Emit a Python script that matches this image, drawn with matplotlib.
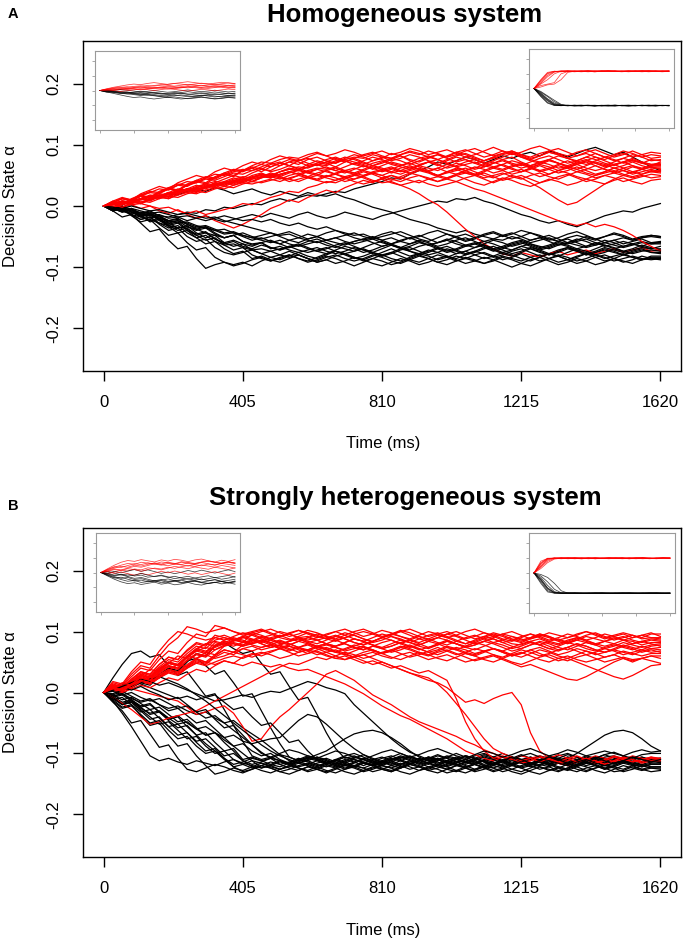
import numpy as np
import matplotlib
matplotlib.use("Agg")
import matplotlib.pyplot as plt

plt.rcParams['font.family'] = ['Liberation Sans', 'DejaVu Sans']

# ---------------- data (decision state in thousandths, sampled every 27 ms) ----------------
T_END = 1620
X_TICKS = [0, 405, 810, 1215, 1620]
Y_TICKS = [-0.2, -0.1, 0.0, 0.1, 0.2]
Y_TICK_LABELS = ['-0.2', '-0.1', '0.0', '0.1', '0.2']
TITLES = ['Homogeneous system', 'Strongly heterogeneous system']
PANEL_LETTERS = ['A', 'B']
X_LABEL = 'Time (ms)'
Y_LABEL = 'Decision State \u03b1'

A_red = [
 [0,6,2,10,16,12,22,28,24,34,40,36,46,52,48,58,62,56,64,70,66,60,68,74,70,64,72,78,72,66,70,76,82,74,68,72,66,74,80,76,70,64,70,76,80,72,66,70,76,70,64,68,74,80,74,68,72,76,70,66,72],
 [0,-4,4,8,4,12,18,14,22,28,24,32,38,34,42,46,40,48,54,50,56,60,54,50,58,62,56,52,58,64,60,54,58,64,60,56,50,56,62,58,52,58,64,68,62,56,60,66,60,54,58,64,58,52,56,62,58,54,60,64,60],
 [0,4,-2,6,12,8,16,22,20,28,34,30,38,44,50,46,54,60,58,66,72,68,76,80,74,70,78,84,80,74,78,86,82,76,72,78,84,80,88,84,78,74,80,86,90,84,78,82,88,84,78,74,80,86,80,74,78,84,80,74,76],
 [0,6,2,8,4,10,16,12,20,26,22,30,36,32,38,44,40,46,52,48,44,50,56,52,48,54,58,54,50,56,60,64,58,54,60,56,50,46,52,56,52,46,50,54,48,44,50,54,48,44,50,56,52,46,50,54,50,46,50,46,48],
 [0,8,14,10,20,26,32,28,38,44,50,46,56,62,58,66,72,68,76,82,78,74,80,86,82,76,72,78,84,88,82,78,84,90,86,80,76,82,88,92,86,80,84,90,86,80,76,82,88,84,78,82,88,92,86,80,84,90,84,78,80],
 [0,4,-2,2,-4,0,-8,-12,-6,-14,-20,-16,-24,-30,-36,-30,-22,-14,-4,2,10,6,14,20,26,22,30,36,42,38,46,50,44,52,58,54,48,56,60,54,50,56,62,58,52,56,62,58,52,58,64,60,54,50,56,62,58,52,56,60,56],
 [0,2,8,4,12,16,14,20,26,24,30,36,32,40,46,42,50,54,48,56,62,58,64,68,62,58,64,70,66,60,66,72,68,62,66,72,76,70,64,68,72,66,62,68,74,70,64,68,74,70,64,60,66,72,68,62,66,72,66,62,62],
 [0,4,8,6,12,16,12,20,24,22,28,32,30,36,40,38,44,48,46,52,56,52,48,54,58,52,46,50,56,52,46,42,48,54,50,44,40,46,50,44,38,34,40,46,42,36,32,38,44,40,34,38,44,40,36,42,46,40,36,42,44],
 [0,-2,4,8,6,12,18,16,22,26,24,30,34,38,34,40,44,48,52,48,54,58,54,60,56,52,58,62,58,54,50,56,62,66,60,56,62,68,64,58,62,68,72,66,60,56,62,68,64,58,62,68,72,66,60,56,62,66,60,64,64],
 [0,4,8,6,12,18,16,22,28,26,32,36,40,38,44,48,46,52,48,44,50,54,48,44,50,46,40,44,48,42,38,40,34,28,20,10,2,-10,-24,-38,-50,-62,-70,-78,-82,-76,-80,-84,-78,-74,-80,-76,-72,-78,-74,-70,-76,-72,-68,-74,-72],
 [0,2,6,2,4,0,-4,-2,-8,-12,-8,-14,-10,-6,-2,4,2,8,14,18,24,22,30,34,40,38,44,50,48,54,58,62,56,60,66,62,58,64,70,66,60,64,70,74,68,62,66,72,68,62,64,70,74,70,64,68,72,66,62,66,66],
 [0,6,12,10,18,22,28,26,34,40,38,46,52,50,56,60,58,64,70,66,72,76,70,66,72,78,74,68,64,70,74,68,64,60,66,72,68,62,66,72,76,70,64,60,66,70,64,58,62,68,74,68,62,58,62,68,62,56,60,64,60],
 [0,2,6,4,10,14,18,16,22,26,30,28,34,38,36,42,46,50,46,52,56,52,58,62,60,64,58,54,60,66,62,56,52,58,62,56,50,54,58,62,56,50,46,52,56,60,54,48,52,58,54,48,44,50,54,58,52,48,52,56,54],
 [0,4,8,6,12,16,14,20,24,28,26,32,36,40,38,44,48,52,50,56,60,64,62,68,72,70,76,80,78,84,80,74,78,84,80,74,70,76,82,86,80,74,78,84,88,82,76,72,76,70,66,72,76,70,66,72,78,74,70,76,74],
 [0,-2,2,6,4,10,14,12,18,22,20,26,30,28,34,38,36,40,44,40,46,50,46,42,48,52,48,44,50,54,50,44,40,46,50,46,40,44,50,54,50,44,38,44,50,46,38,30,20,10,2,6,16,26,36,44,50,56,52,58,56],
 [0,6,12,8,16,22,20,28,34,32,40,46,44,52,58,56,62,68,64,70,76,72,66,70,76,80,74,68,74,80,76,70,66,72,78,82,76,70,74,80,76,70,74,80,86,80,74,70,76,82,78,72,68,74,80,76,70,74,72,68,68],
 [0,4,8,6,12,16,20,18,24,28,26,32,36,34,40,44,40,46,50,46,40,44,48,42,38,42,46,40,36,40,44,38,34,38,42,36,32,36,40,34,28,24,18,12,6,0,-6,-12,-18,-24,-28,-32,-28,-34,-30,-34,-40,-48,-58,-66,-74],
 [0,4,2,8,12,10,16,22,20,26,30,34,32,38,42,40,46,52,50,56,60,58,64,68,66,72,76,72,68,74,80,78,84,88,84,90,86,80,84,90,94,88,82,86,90,84,80,86,90,94,88,82,86,80,76,82,86,80,84,88,86],
 [0,6,4,10,16,14,22,28,26,34,38,44,42,48,54,52,58,62,56,60,66,62,56,60,64,58,54,60,66,62,56,60,66,70,64,58,62,56,52,58,64,60,54,58,64,68,62,56,60,66,62,56,60,66,60,54,58,64,60,56,58],
 [0,8,4,12,18,14,24,30,26,36,42,38,48,54,50,58,64,60,68,72,66,74,78,72,68,74,80,76,70,66,72,78,74,68,74,80,84,78,72,76,70,74,80,76,70,66,72,78,82,76,70,74,80,76,70,66,72,78,72,68,70],
 [0,2,-2,4,8,6,12,16,14,20,24,22,28,32,30,36,40,38,42,46,44,40,46,50,46,42,48,52,46,40,44,50,46,42,38,44,48,44,40,46,50,54,48,42,46,50,44,38,42,48,52,46,40,44,50,46,40,44,48,52,50],
 [0,6,12,10,18,24,22,30,36,34,42,48,46,54,60,58,66,72,70,76,80,78,84,88,82,86,92,88,82,86,90,84,88,94,90,84,88,92,86,80,84,90,96,90,84,88,94,98,92,86,82,88,92,86,80,84,90,86,80,84,82],
]

A_black = [
 [0,-4,-8,-6,-12,-10,-16,-18,-14,-10,-12,-6,-8,-2,-4,0,4,2,8,12,8,14,18,16,20,24,22,28,32,36,40,46,44,52,58,64,72,68,74,80,76,70,76,82,78,84,88,82,90,86,80,86,92,96,90,84,88,80,72,64,58],
 [0,4,2,8,12,10,16,20,18,24,28,24,30,26,20,24,28,22,18,24,20,16,22,18,16,20,14,10,4,-2,-6,-10,-16,-22,-26,-30,-36,-40,-44,-40,-46,-50,-54,-56,-50,-54,-60,-56,-52,-58,-62,-58,-54,-60,-66,-62,-58,-62,-66,-60,-58],
 [0,-4,-8,-6,-12,-16,-14,-20,-18,-24,-20,-16,-22,-26,-22,-18,-14,-18,-12,-16,-20,-14,-10,-16,-20,-16,-10,-14,-18,-22,-16,-12,-8,-4,0,4,8,6,12,10,14,8,4,-2,-8,-14,-18,-24,-28,-24,-30,-34,-28,-22,-16,-12,-8,-10,-4,0,4],
 [0,-6,-2,-10,-16,-12,-22,-30,-26,-38,-46,-42,-54,-62,-58,-66,-70,-64,-68,-72,-66,-62,-68,-74,-70,-64,-60,-66,-72,-76,-70,-64,-68,-72,-66,-62,-68,-74,-70,-64,-60,-66,-72,-68,-62,-58,-64,-70,-66,-60,-64,-70,-66,-60,-64,-70,-66,-62,-66,-70,-66],
 [0,-6,-4,-10,-16,-14,-20,-26,-24,-30,-36,-34,-40,-46,-44,-50,-56,-52,-58,-62,-56,-60,-54,-50,-56,-60,-64,-58,-54,-50,-56,-62,-58,-52,-48,-54,-60,-56,-50,-46,-52,-58,-54,-48,-44,-50,-56,-52,-48,-54,-60,-56,-50,-54,-60,-56,-52,-56,-52,-50,-52],
 [0,-8,-4,-16,-26,-22,-36,-48,-44,-60,-72,-68,-84,-92,-96,-92,-98,-90,-84,-88,-82,-76,-82,-86,-80,-74,-78,-84,-88,-82,-76,-70,-76,-82,-78,-72,-76,-82,-86,-80,-74,-78,-84,-80,-74,-70,-76,-82,-78,-72,-68,-74,-80,-76,-70,-74,-80,-76,-72,-76,-78],
 [0,-2,-8,-4,-12,-20,-16,-28,-36,-32,-44,-52,-48,-60,-66,-62,-72,-78,-74,-80,-84,-80,-86,-90,-84,-80,-86,-90,-86,-80,-84,-90,-94,-88,-82,-86,-92,-88,-82,-86,-90,-94,-88,-82,-86,-90,-84,-80,-86,-92,-88,-82,-78,-84,-90,-86,-80,-84,-88,-82,-82],
 [0,-6,-2,-10,-18,-14,-24,-32,-28,-40,-48,-44,-54,-60,-56,-62,-66,-60,-56,-62,-68,-64,-58,-54,-60,-66,-70,-74,-68,-62,-58,-64,-70,-66,-60,-64,-70,-76,-72,-66,-62,-68,-74,-70,-64,-60,-66,-72,-68,-62,-66,-72,-76,-70,-64,-68,-74,-70,-64,-68,-72],
 [0,-4,-8,-14,-18,-22,-28,-32,-36,-34,-38,-44,-48,-52,-48,-44,-50,-54,-50,-46,-42,-48,-54,-50,-44,-40,-46,-52,-56,-52,-46,-42,-48,-54,-50,-44,-40,-46,-52,-58,-54,-48,-44,-50,-46,-40,-44,-50,-56,-52,-46,-42,-48,-54,-50,-44,-48,-54,-50,-48,-50],
 [0,-8,-18,-14,-28,-42,-38,-56,-70,-66,-86,-102,-96,-92,-98,-94,-88,-84,-90,-86,-80,-86,-92,-88,-82,-86,-92,-98,-92,-86,-90,-96,-92,-86,-80,-86,-92,-96,-90,-84,-88,-94,-90,-84,-88,-94,-98,-92,-86,-82,-88,-94,-90,-84,-80,-86,-92,-88,-82,-86,-86],
 [0,-4,0,-6,-12,-8,-16,-24,-20,-30,-38,-34,-44,-52,-48,-58,-64,-60,-70,-66,-72,-76,-72,-68,-74,-78,-74,-68,-72,-78,-82,-76,-70,-74,-80,-76,-70,-66,-72,-78,-74,-68,-72,-78,-82,-76,-70,-74,-80,-76,-70,-74,-80,-76,-72,-76,-80,-74,-70,-76,-76],
 [0,-4,-8,-12,-10,-16,-20,-24,-28,-26,-32,-36,-40,-38,-44,-48,-52,-56,-60,-56,-62,-66,-62,-58,-64,-68,-62,-58,-54,-60,-66,-62,-56,-52,-58,-64,-60,-54,-58,-64,-68,-62,-56,-60,-66,-62,-56,-52,-58,-64,-60,-54,-58,-64,-60,-56,-62,-58,-54,-60,-60],
 [0,-4,-10,-6,-16,-24,-20,-32,-40,-36,-48,-56,-52,-64,-72,-68,-80,-86,-90,-84,-80,-86,-90,-84,-78,-74,-80,-86,-82,-76,-80,-86,-90,-84,-78,-82,-88,-84,-78,-74,-80,-86,-82,-76,-80,-86,-90,-84,-78,-82,-88,-84,-78,-80,-86,-82,-78,-84,-88,-84,-84],
 [0,-2,-4,0,-4,-8,-6,-10,-14,-12,-16,-20,-18,-24,-28,-32,-36,-40,-44,-48,-46,-52,-56,-60,-56,-52,-58,-62,-58,-54,-60,-64,-68,-62,-56,-60,-66,-62,-56,-52,-58,-64,-70,-66,-60,-56,-62,-68,-64,-58,-54,-60,-66,-62,-56,-60,-66,-62,-58,-62,-62],
 [0,-6,-2,-10,-16,-12,-22,-28,-24,-34,-40,-36,-46,-52,-48,-58,-62,-60,-68,-72,-68,-64,-70,-74,-78,-72,-66,-70,-76,-72,-66,-62,-68,-74,-78,-74,-68,-72,-78,-74,-68,-64,-70,-76,-72,-66,-70,-76,-80,-74,-68,-72,-78,-74,-68,-72,-76,-72,-68,-70,-70],
 [0,-8,-4,-14,-22,-18,-30,-40,-36,-50,-58,-54,-68,-76,-80,-76,-72,-78,-84,-80,-74,-80,-86,-92,-88,-82,-78,-84,-90,-86,-80,-76,-82,-88,-92,-86,-80,-84,-90,-86,-80,-76,-82,-88,-84,-78,-84,-90,-86,-80,-84,-90,-86,-80,-84,-90,-86,-82,-86,-88,-86],
 [0,-2,-6,-4,-8,-12,-10,-14,-18,-16,-20,-24,-20,-16,-20,-24,-22,-26,-22,-28,-32,-28,-34,-38,-34,-40,-44,-48,-46,-52,-56,-52,-58,-62,-58,-64,-60,-56,-62,-66,-62,-58,-62,-68,-72,-66,-62,-66,-70,-64,-60,-64,-68,-64,-60,-64,-68,-64,-60,-62,-60],
 [0,-8,-4,-14,-22,-18,-28,-36,-32,-44,-52,-48,-58,-64,-62,-68,-72,-70,-74,-70,-66,-72,-76,-72,-68,-74,-78,-74,-70,-76,-82,-78,-72,-68,-74,-80,-76,-70,-74,-80,-76,-70,-66,-72,-78,-74,-68,-72,-78,-82,-76,-70,-74,-80,-76,-70,-74,-78,-74,-72,-74],
 [0,-4,-10,-6,-16,-26,-22,-34,-44,-40,-52,-62,-58,-70,-78,-74,-86,-82,-88,-92,-86,-80,-86,-92,-88,-94,-90,-84,-88,-94,-98,-92,-86,-90,-96,-92,-86,-82,-88,-94,-90,-84,-88,-94,-100,-94,-88,-84,-90,-96,-92,-86,-90,-96,-92,-86,-90,-94,-88,-86,-88],
 [0,-6,-2,-8,-14,-12,-18,-24,-22,-28,-34,-32,-38,-44,-42,-48,-52,-48,-44,-50,-56,-52,-46,-50,-56,-52,-48,-44,-50,-54,-50,-46,-42,-48,-54,-58,-52,-46,-50,-56,-52,-46,-42,-48,-54,-50,-44,-48,-54,-58,-52,-48,-52,-56,-50,-46,-50,-56,-52,-48,-50],
]

B_red = [
 [0,12,8,22,34,30,46,58,54,68,80,76,90,86,92,98,94,100,104,98,92,96,102,98,92,88,94,100,104,98,92,96,102,98,92,86,90,96,100,94,88,92,98,94,88,84,90,96,92,86,90,96,100,94,88,92,96,90,94,98,92],
 [0,8,4,16,26,22,36,48,44,58,70,66,82,78,84,90,86,92,88,82,78,84,90,86,80,76,82,88,84,78,74,80,86,82,76,72,78,84,80,74,78,84,88,82,76,72,78,84,80,74,70,76,82,78,72,76,82,78,74,78,80],
 [0,16,12,30,44,40,60,78,90,108,104,98,102,106,100,94,98,102,96,90,86,92,98,94,88,84,90,94,88,82,86,92,88,82,78,84,90,86,80,76,82,88,92,86,80,78,84,88,82,78,84,90,86,80,76,80,86,84,78,82,82],
 [0,6,2,10,18,14,24,32,28,40,50,46,58,66,62,72,68,74,78,72,68,74,80,76,70,66,72,78,74,68,64,70,76,72,66,62,68,74,70,64,60,66,72,68,62,58,64,70,66,60,56,62,68,64,58,62,68,64,60,64,64],
 [0,10,6,18,28,24,38,50,46,60,72,68,74,80,76,82,86,80,74,78,84,88,82,76,80,86,80,74,70,76,82,86,80,74,78,84,80,74,70,76,82,78,72,68,74,80,84,78,72,76,82,78,72,68,74,78,74,70,76,72,74],
 [0,8,4,14,22,18,30,38,34,46,56,62,56,60,66,62,58,64,68,72,66,60,64,70,74,68,62,58,62,66,60,56,62,66,60,54,58,62,56,50,54,58,62,56,50,46,52,58,62,56,52,58,62,56,50,54,58,54,56,60,60],
 [0,10,6,18,30,26,40,50,46,60,72,80,76,82,88,84,78,74,78,84,80,74,70,76,80,74,68,72,76,70,64,68,74,70,64,60,66,70,64,58,52,56,60,54,48,42,46,40,34,28,22,20,26,34,42,50,56,50,56,52,48],
 [0,6,2,10,18,14,24,34,30,42,52,48,60,70,66,78,86,84,90,94,88,84,90,96,92,86,90,96,100,96,90,94,100,104,98,92,96,100,94,88,92,98,94,88,84,90,96,92,86,90,96,92,86,90,96,92,86,90,94,90,88],
 [0,14,10,26,40,36,54,68,64,82,96,92,110,106,100,96,100,104,98,92,96,102,98,92,88,92,98,94,88,84,90,96,92,86,82,88,94,90,84,80,86,92,88,82,86,92,96,90,84,80,86,90,84,80,84,90,86,80,84,88,86],
 [0,4,0,6,12,8,16,24,20,30,38,34,44,52,48,58,64,60,66,72,76,72,68,74,78,74,70,76,82,78,72,76,82,86,80,74,78,84,80,74,70,76,82,78,72,76,82,78,72,68,74,80,76,70,66,70,76,72,66,70,66],
 [0,10,6,18,28,24,38,48,44,58,68,74,70,76,80,76,82,86,80,74,78,84,80,74,70,76,80,74,70,76,72,66,70,76,72,66,62,68,74,70,64,68,72,66,60,64,70,64,58,52,56,50,44,38,32,26,22,28,36,44,46],
 [0,12,8,20,32,28,42,54,50,64,76,72,86,90,86,92,98,94,88,92,98,102,96,90,94,100,104,98,92,96,102,98,92,88,94,100,96,90,94,100,104,98,92,96,100,94,88,92,98,94,90,94,100,96,90,94,98,94,90,96,96],
 [0,4,8,6,2,-2,-6,-10,-14,-24,-36,-32,-26,-22,-34,-56,-80,-76,-56,-40,-28,-14,0,14,30,36,28,20,8,-4,-12,-20,-30,-40,-48,-54,-60,-66,-72,-80,-86,-94,-100,-106,-110,-104,-108,-114,-108,-102,-108,-114,-110,-104,-108,-114,-110,-104,-108,-112,-108],
 [0,-8,-18,-28,-40,-52,-48,-42,-38,-34,-30,-22,-14,-6,2,10,18,26,34,42,48,46,52,58,54,60,66,62,56,60,66,70,64,58,62,68,74,68,62,66,72,68,62,58,64,70,66,60,64,70,74,68,62,66,72,68,62,66,70,66,68],
 [0,8,4,14,24,20,34,44,40,60,56,50,46,52,48,44,50,46,42,46,40,36,38,32,26,20,14,6,-2,-12,-22,-30,-38,-44,-52,-60,-68,-76,-86,-96,-102,-108,-112,-106,-110,-116,-112,-106,-110,-116,-120,-114,-108,-112,-118,-112,-106,-110,-116,-112,-112],
 [0,10,6,18,28,24,38,48,44,58,68,64,78,84,80,76,80,86,82,76,70,74,68,62,66,60,54,58,52,46,50,44,38,32,28,24,14,0,-18,-36,-56,-76,-92,-100,-106,-112,-108,-104,-110,-116,-112,-106,-110,-116,-112,-106,-110,-114,-110,-106,-110],
 [0,8,4,14,24,20,34,44,40,54,64,60,76,86,90,86,80,84,78,72,76,70,64,68,62,56,60,54,48,52,46,40,44,38,32,36,28,20,-10,-48,-76,-96,-108,-104,-110,-116,-112,-106,-110,-116,-120,-114,-108,-112,-118,-112,-106,-110,-114,-108,-110],
 [0,12,8,22,34,30,46,58,54,70,82,78,94,90,86,90,94,88,82,86,80,74,78,72,66,70,64,58,62,56,50,44,38,32,26,20,16,8,-4,-16,-12,-18,-10,-4,0,-20,-66,-96,-108,-114,-108,-104,-110,-116,-110,-104,-108,-114,-110,-106,-108],
 [0,6,12,8,18,28,24,36,46,42,56,66,62,76,86,82,96,90,94,100,96,90,86,90,96,100,94,88,84,90,96,92,86,82,88,94,98,92,86,80,84,90,96,92,86,82,88,94,90,84,80,86,82,78,84,80,76,80,84,80,76],
 [0,18,14,34,50,46,68,86,100,96,90,86,90,94,88,82,86,80,74,78,84,88,82,86,90,94,88,82,78,84,90,96,100,94,88,84,90,96,92,86,80,84,90,96,92,86,90,96,92,86,82,88,94,98,92,86,90,94,88,90,90],
 [0,8,4,14,24,20,32,42,38,52,62,58,70,78,82,78,84,90,86,80,84,90,92,86,80,76,82,88,84,78,72,76,82,76,70,74,80,86,80,74,78,84,80,74,68,72,78,82,76,70,74,80,76,70,66,72,78,74,70,76,78],
 [0,8,4,12,20,16,26,34,30,40,48,44,50,56,60,56,62,66,62,56,60,66,70,66,60,56,54,60,66,70,64,58,54,60,66,62,56,52,58,64,60,54,50,56,62,66,60,54,50,56,60,54,50,54,58,62,56,52,56,60,56],
 [0,8,16,12,26,38,34,48,60,56,70,80,84,80,86,92,88,82,86,92,96,90,84,80,86,92,88,82,78,84,90,86,80,86,92,88,82,78,84,90,94,88,82,86,92,88,82,78,84,88,82,86,92,88,84,88,92,86,82,86,84],
 [0,6,2,12,20,16,28,36,32,44,54,50,62,70,66,72,76,70,74,78,72,66,70,76,72,66,62,68,74,70,64,68,74,78,72,66,70,76,72,66,62,68,72,66,60,64,70,74,68,62,66,72,68,62,66,70,66,62,68,72,70],
]

B_black = [
 [0,-14,-34,-56,-80,-104,-112,-108,-114,-118,-112,-116,-120,-114,-110,-116,-120,-124,-118,-112,-116,-122,-118,-112,-108,-114,-120,-116,-110,-114,-120,-124,-118,-112,-116,-122,-118,-112,-108,-114,-118,-112,-116,-122,-118,-112,-108,-114,-120,-116,-110,-114,-120,-116,-110,-106,-112,-118,-114,-110,-116],
 [0,24,46,64,68,58,62,44,28,34,14,-6,-2,-28,-54,-80,-104,-110,-106,-112,-118,-112,-106,-110,-116,-110,-104,-100,-106,-112,-116,-110,-104,-108,-114,-118,-112,-106,-110,-116,-110,-104,-108,-114,-120,-114,-108,-112,-118,-112,-106,-110,-116,-112,-106,-104,-110,-114,-108,-112,-114],
 [0,6,2,12,20,16,30,40,36,52,56,44,30,36,16,-6,-2,-30,-58,-84,-106,-112,-106,-110,-116,-112,-106,-110,-116,-120,-114,-108,-112,-118,-112,-106,-110,-116,-110,-104,-108,-114,-120,-114,-108,-112,-118,-112,-106,-110,-116,-110,-104,-108,-114,-110,-106,-110,-114,-110,-110],
 [0,4,-2,8,16,12,26,38,34,50,64,60,76,82,72,64,68,48,30,34,10,-12,-8,-36,-66,-92,-108,-104,-110,-116,-112,-106,-100,-106,-112,-108,-102,-108,-114,-110,-104,-100,-106,-112,-108,-102,-108,-114,-110,-104,-100,-106,-112,-108,-102,-108,-114,-110,-106,-112,-110],
 [0,6,12,18,14,8,2,-4,-10,-6,-12,-8,-14,-12,-8,-4,-8,-2,2,0,6,12,18,14,8,4,-2,-20,-34,-48,-62,-76,-88,-98,-104,-110,-116,-112,-106,-110,-116,-112,-106,-100,-106,-112,-116,-110,-104,-108,-114,-118,-112,-106,-110,-116,-112,-106,-110,-114,-110],
 [0,-8,-4,-14,-24,-20,-32,-42,-38,-50,-60,-56,-66,-74,-70,-80,-84,-80,-76,-74,-60,-46,-36,-40,-52,-66,-80,-92,-102,-110,-106,-112,-118,-114,-108,-112,-118,-122,-116,-110,-114,-120,-116,-110,-106,-112,-118,-114,-108,-112,-118,-114,-110,-114,-120,-116,-110,-114,-118,-114,-114],
 [0,-6,-16,-12,-24,-36,-32,-46,-58,-54,-70,-84,-96,-108,-122,-118,-112,-116,-122,-126,-120,-114,-118,-124,-118,-112,-116,-122,-116,-110,-114,-120,-124,-118,-112,-116,-122,-126,-120,-114,-118,-124,-118,-112,-116,-122,-118,-112,-116,-122,-126,-120,-114,-118,-124,-120,-114,-118,-122,-118,-118],
 [0,-4,2,-6,-14,-10,-20,-30,-26,-38,-50,-46,-60,-74,-88,-100,-112,-124,-120,-114,-118,-124,-128,-122,-116,-120,-126,-122,-116,-120,-126,-130,-124,-118,-122,-128,-124,-118,-114,-120,-126,-122,-116,-120,-126,-130,-124,-118,-122,-128,-124,-118,-114,-120,-126,-122,-116,-120,-126,-122,-122],
 [0,-6,-2,-10,-16,-12,-20,-26,-22,-30,-36,-32,-42,-50,-46,-58,-68,-78,-90,-102,-112,-116,-110,-106,-112,-118,-112,-106,-110,-116,-120,-114,-108,-104,-110,-116,-112,-106,-100,-106,-112,-118,-112,-106,-110,-116,-110,-104,-108,-114,-118,-112,-106,-110,-116,-112,-106,-110,-114,-108,-108],
 [0,-12,-24,-20,-38,-54,-50,-70,-88,-84,-104,-120,-134,-130,-124,-128,-122,-116,-120,-126,-122,-116,-120,-126,-130,-124,-118,-122,-128,-124,-118,-114,-120,-126,-122,-116,-120,-126,-130,-124,-118,-122,-128,-124,-118,-114,-120,-126,-122,-116,-120,-126,-130,-124,-118,-122,-126,-120,-118,-122,-122],
 [0,-10,-18,-14,-26,-34,-30,-42,-52,-48,-60,-70,-66,-78,-88,-84,-96,-104,-100,-110,-116,-110,-104,-108,-114,-120,-114,-108,-102,-108,-114,-118,-112,-106,-110,-116,-110,-104,-108,-114,-108,-102,-106,-112,-118,-112,-106,-110,-116,-112,-106,-110,-116,-112,-108,-112,-116,-110,-106,-110,-108],
 [0,-6,-2,-12,-22,-18,-32,-44,-40,-56,-70,-66,-82,-96,-92,-110,-106,-112,-108,-102,-106,-112,-108,-102,-96,-86,-76,-68,-64,-62,-66,-74,-84,-96,-106,-112,-108,-114,-110,-104,-108,-114,-118,-112,-106,-110,-116,-112,-106,-110,-116,-112,-108,-112,-116,-110,-106,-110,-114,-110,-114],
 [0,-4,-12,-8,-18,-28,-24,-36,-48,-44,-58,-70,-66,-82,-96,-112,-118,-114,-108,-112,-118,-114,-108,-112,-118,-122,-116,-110,-114,-120,-116,-110,-106,-112,-118,-114,-108,-112,-118,-122,-116,-110,-114,-120,-116,-110,-106,-112,-118,-114,-108,-100,-90,-80,-70,-64,-62,-66,-76,-88,-96],
 [0,-10,-20,-16,-28,-40,-52,-48,-62,-76,-72,-88,-100,-96,-110,-118,-124,-120,-114,-118,-124,-128,-122,-116,-112,-118,-124,-120,-114,-118,-124,-128,-122,-116,-120,-126,-120,-114,-118,-124,-128,-122,-116,-112,-118,-124,-120,-114,-118,-124,-128,-122,-116,-120,-126,-120,-114,-118,-122,-118,-118],
 [0,4,8,4,10,2,-4,-12,-8,-20,-32,-28,-44,-58,-54,-70,-86,-98,-108,-118,-114,-108,-112,-118,-122,-116,-110,-114,-120,-114,-108,-104,-110,-116,-112,-106,-110,-116,-120,-114,-108,-112,-118,-112,-106,-110,-116,-120,-114,-108,-112,-118,-112,-106,-110,-116,-112,-106,-110,-112,-110],
 [0,-12,-8,-20,-32,-28,-42,-56,-52,-66,-80,-76,-90,-104,-100,-112,-122,-128,-132,-126,-120,-124,-130,-126,-120,-124,-130,-134,-128,-122,-126,-130,-124,-118,-122,-128,-132,-126,-120,-124,-130,-126,-120,-124,-130,-134,-128,-122,-126,-130,-124,-118,-122,-128,-132,-126,-120,-124,-128,-124,-126],
 [0,-2,4,10,16,22,26,20,14,6,-4,-14,-26,-38,-50,-62,-74,-86,-96,-104,-110,-116,-112,-106,-110,-116,-120,-114,-108,-112,-118,-112,-106,-110,-116,-110,-104,-108,-114,-118,-112,-106,-110,-116,-110,-104,-100,-106,-112,-108,-102,-106,-112,-108,-102,-98,-104,-108,-102,-100,-100],
 [0,-14,-26,-22,-36,-50,-46,-62,-76,-72,-88,-100,-96,-110,-122,-130,-126,-120,-124,-130,-134,-128,-122,-126,-132,-126,-120,-124,-130,-126,-120,-124,-130,-134,-128,-122,-126,-132,-128,-122,-118,-124,-130,-126,-120,-124,-130,-134,-128,-122,-126,-130,-124,-120,-124,-130,-128,-122,-126,-130,-128],
 [0,2,-4,0,-8,-14,-10,-18,-26,-22,-32,-42,-38,-50,-62,-74,-86,-100,-106,-100,-94,-98,-104,-108,-102,-96,-100,-106,-110,-104,-98,-94,-100,-106,-102,-96,-92,-98,-104,-108,-102,-96,-100,-106,-102,-96,-92,-98,-104,-100,-94,-98,-104,-100,-96,-100,-104,-98,-94,-98,-96],
 [0,-16,-30,-50,-46,-68,-90,-86,-108,-126,-130,-124,-118,-122,-128,-132,-126,-120,-124,-130,-126,-120,-116,-122,-128,-132,-126,-120,-124,-130,-126,-120,-116,-122,-128,-124,-118,-122,-128,-132,-126,-120,-124,-130,-126,-120,-116,-122,-128,-124,-118,-122,-128,-124,-120,-124,-130,-126,-120,-124,-124],
 [0,4,10,16,22,18,12,16,10,4,-2,-8,-4,-16,-28,-24,-40,-54,-50,-66,-82,-78,-96,-110,-116,-112,-106,-110,-116,-120,-114,-108,-112,-118,-112,-106,-110,-116,-110,-104,-108,-114,-118,-112,-106,-110,-116,-112,-106,-110,-116,-120,-114,-108,-112,-118,-112,-106,-110,-114,-110],
 [0,-8,-20,-16,-30,-44,-40,-56,-70,-66,-82,-96,-92,-108,-118,-114,-108,-112,-118,-122,-116,-110,-114,-120,-116,-110,-114,-120,-124,-118,-112,-116,-122,-118,-112,-108,-114,-120,-116,-110,-114,-120,-124,-118,-112,-116,-122,-118,-112,-116,-120,-114,-110,-116,-120,-116,-112,-116,-120,-116,-116],
]

# insets (sampled every 81 ms)
A_in_left_red = [
 [0,10,18,24,20,28,32,26,34,40,36,30,36,42,38,32,38,44,40,34,38],
 [0,6,12,8,14,20,16,22,18,24,30,26,20,26,32,36,30,24,30,36,32],
 [0,-4,2,8,14,10,4,10,16,22,18,12,18,24,20,14,20,26,22,16,20],
 [0,12,22,30,38,44,40,48,54,48,42,48,54,60,54,48,44,50,56,52,46],
 [0,4,0,-6,-2,4,10,6,0,6,12,8,2,-4,2,8,4,-2,4,10,6],
 [0,8,14,20,26,22,28,34,30,36,42,48,44,38,44,50,46,40,46,52,48],
 [0,2,8,14,10,16,22,18,12,18,24,20,26,32,28,22,28,34,30,24,28],
 [0,6,4,10,6,12,8,14,20,16,10,16,22,18,24,20,14,20,26,22,18],
]
A_in_left_black = [
 [0,-8,-14,-20,-16,-24,-30,-26,-34,-40,-36,-30,-36,-42,-38,-32,-38,-44,-40,-34,-38],
 [0,-4,-10,-6,-12,-18,-14,-20,-16,-22,-28,-24,-18,-24,-30,-34,-28,-22,-28,-34,-30],
 [0,2,-4,-10,-16,-12,-6,-12,-18,-24,-20,-14,-20,-26,-22,-16,-22,-28,-24,-18,-22],
 [0,-10,-20,-30,-40,-48,-44,-52,-58,-52,-46,-52,-58,-54,-48,-44,-50,-56,-52,-46,-50],
 [0,-2,2,6,2,-4,-10,-6,0,-6,-12,-8,-2,4,-2,-8,-4,2,-4,-10,-6],
 [0,-6,-12,-18,-24,-20,-26,-32,-28,-34,-40,-36,-30,-36,-42,-38,-32,-38,-44,-40,-36],
 [0,-2,-8,-14,-10,-16,-22,-18,-12,-18,-24,-20,-14,-8,-14,-20,-16,-10,-16,-22,-18],
 [0,-12,-8,-16,-22,-28,-34,-30,-36,-42,-48,-44,-50,-56,-52,-46,-52,-58,-54,-48,-52],
]
A_in_right_red = [
 [0,60,110,118,116,120,118,114,118,122,118,116,120,118,114,118,122,120,116,118,120],
 [0,40,90,114,120,116,118,122,118,114,118,120,116,120,122,118,114,118,120,116,118],
 [0,30,60,100,118,122,118,116,120,118,122,118,116,120,118,116,120,122,118,116,120],
 [0,20,30,40,100,116,120,118,114,118,122,120,116,118,120,116,118,122,118,114,118],
 [0,50,100,116,120,118,114,118,120,116,118,122,118,116,120,118,122,118,116,120,118],
 [0,35,80,112,118,120,116,120,118,114,118,120,122,118,116,120,118,114,118,122,120],
 [0,10,25,30,60,110,118,116,120,118,116,118,120,116,118,122,118,116,120,118,116],
 [0,55,105,118,114,118,120,118,122,118,116,120,118,114,118,120,116,118,122,118,120],
]
A_in_right_black = [
 [0,-40,-80,-110,-116,-118,-114,-116,-118,-120,-116,-114,-118,-116,-120,-118,-114,-116,-118,-116,-118],
 [0,-30,-70,-100,-114,-116,-120,-116,-114,-118,-116,-120,-118,-114,-116,-118,-116,-120,-116,-114,-116],
 [0,-50,-95,-114,-118,-114,-116,-118,-116,-114,-118,-116,-114,-118,-120,-116,-118,-116,-114,-118,-116],
 [0,-25,-55,-90,-112,-118,-116,-114,-118,-116,-120,-118,-114,-116,-118,-116,-114,-118,-120,-116,-118],
 [0,-45,-85,-112,-116,-114,-118,-120,-116,-118,-114,-116,-118,-116,-114,-118,-116,-114,-116,-118,-116],
 [0,-35,-75,-106,-116,-118,-116,-114,-116,-118,-116,-118,-120,-116,-114,-116,-118,-116,-114,-116,-118],
 [0,-20,-50,-80,-108,-116,-114,-118,-116,-120,-116,-114,-116,-118,-116,-114,-118,-116,-118,-116,-114],
 [0,-55,-100,-116,-114,-116,-118,-116,-114,-116,-118,-116,-114,-118,-116,-118,-116,-114,-118,-116,-118],
]
B_in_left_red = [
 [0,20,36,50,62,56,70,64,58,72,66,60,74,68,62,70,76,70,64,72,66],
 [0,12,24,18,30,42,36,48,60,54,46,58,52,44,56,68,60,50,62,56,48],
 [0,-10,4,16,10,24,18,32,26,18,30,42,34,26,38,30,22,36,28,20,32],
 [0,26,50,70,82,76,88,80,72,86,78,90,84,74,86,92,80,72,84,76,88],
 [0,6,-6,4,-8,-18,-6,-16,-4,8,-2,10,0,-12,-2,-14,-4,6,-6,-16,-4],
 [0,16,30,42,36,50,44,56,66,58,70,62,54,66,60,72,80,70,62,74,64],
 [0,8,20,14,26,20,8,20,30,24,36,28,40,48,40,52,44,36,48,40,30],
 [0,22,40,34,48,60,54,66,58,50,62,56,70,62,54,46,58,52,64,70,60],
]
B_in_left_black = [
 [0,-18,-34,-48,-60,-54,-68,-62,-56,-70,-64,-58,-72,-66,-60,-68,-74,-68,-62,-70,-64],
 [0,-10,-22,-16,-28,-40,-34,-46,-58,-52,-44,-56,-50,-42,-54,-66,-58,-48,-60,-54,-46],
 [0,8,-4,-16,-10,-24,-18,-32,-26,-18,-30,-42,-34,-26,-38,-30,-22,-36,-28,-20,-32],
 [0,-24,-46,-64,-76,-70,-82,-74,-66,-80,-72,-84,-78,-68,-80,-86,-74,-66,-78,-70,-80],
 [0,-4,8,-2,10,20,8,18,6,-6,4,-8,2,14,4,16,6,-4,8,18,6],
 [0,-14,-28,-40,-34,-48,-42,-54,-64,-56,-68,-60,-52,-64,-58,-70,-76,-68,-60,-72,-62],
 [0,-6,-18,-12,-24,-18,-6,-18,-28,-22,-34,-26,-38,-46,-38,-50,-42,-34,-46,-38,-28],
 [0,-20,-38,-32,-46,-58,-52,-64,-56,-48,-60,-54,-68,-60,-52,-44,-56,-50,-62,-68,-58],
]
B_in_right_red = [
 [0,70,100,98,102,100,96,100,104,100,98,102,100,96,100,104,102,98,100,102,100],
 [0,50,92,102,98,100,104,100,96,100,102,98,100,104,100,96,100,102,98,100,102],
 [0,80,98,102,100,96,100,104,100,98,100,102,98,100,96,100,104,100,98,102,100],
 [0,40,80,98,102,100,98,100,102,96,100,104,100,98,102,100,96,100,104,100,98],
 [0,60,96,100,104,100,98,96,100,102,98,100,104,100,98,102,100,96,100,102,100],
 [0,30,70,94,100,104,100,98,100,96,100,102,100,98,104,100,98,100,96,100,102],
 [0,65,98,100,96,100,104,100,98,102,100,96,100,104,98,100,102,98,100,104,98],
 [0,45,88,100,98,102,100,96,100,104,100,98,102,100,96,100,104,100,98,100,102],
]
B_in_right_black = [
 [0,-60,-120,-136,-134,-136,-138,-136,-134,-136,-138,-136,-134,-136,-138,-136,-134,-136,-138,-136,-134],
 [0,-40,-100,-132,-136,-134,-136,-138,-136,-134,-136,-138,-136,-134,-136,-138,-136,-134,-136,-138,-136],
 [0,-20,-60,-110,-134,-136,-138,-136,-134,-136,-138,-136,-134,-136,-138,-136,-134,-136,-138,-136,-136],
 [0,-70,-128,-136,-138,-136,-134,-136,-138,-136,-134,-136,-138,-136,-134,-136,-138,-136,-134,-136,-138],
 [0,-10,-30,-70,-120,-136,-134,-136,-138,-136,-134,-136,-138,-136,-134,-136,-138,-136,-134,-136,-136],
 [0,-50,-110,-134,-136,-138,-136,-134,-136,-138,-136,-134,-136,-138,-136,-134,-136,-138,-136,-134,-136],
 [0,-30,-84,-126,-136,-134,-136,-138,-136,-134,-136,-138,-136,-134,-136,-138,-136,-134,-136,-138,-136],
 [0,-45,-104,-132,-136,-136,-134,-136,-138,-136,-134,-136,-138,-136,-134,-136,-138,-136,-134,-136,-136],
]

# ---------------- figure ----------------
W, H = 686, 943
fig = plt.figure(figsize=(W / 100, H / 100), dpi=100)

XLIM = (-60, 1680)
YLIM = (-0.27, 0.27)


def px_axes(x0, y0, x1, y1):
    return [x0 / W, 1 - y1 / H, (x1 - x0) / W, (y1 - y0) / H]


def draw_traces(ax, reds, blacks, lw, alpha=1.0):
    n = max(len(reds), len(blacks))
    for i in range(n):
        if i < len(blacks):
            v = np.asarray(blacks[i], dtype=float) / 1000.0
            ax.plot(np.linspace(0, T_END, len(v)), v, color='black', lw=lw, alpha=alpha,
                    solid_joinstyle='miter')
        if i < len(reds):
            v = np.asarray(reds[i], dtype=float) / 1000.0
            ax.plot(np.linspace(0, T_END, len(v)), v, color='#ff0000', lw=lw, alpha=alpha,
                    solid_joinstyle='miter')


def main_panel(box, reds, blacks, title, title_y, letter, letter_y, xlabel_y):
    ax = fig.add_axes(px_axes(*box))
    draw_traces(ax, reds, blacks, lw=0.9)
    ax.set_xlim(*XLIM)
    ax.set_ylim(*YLIM)
    ax.set_xticks(X_TICKS)
    ax.set_xticklabels([str(x) for x in X_TICKS])
    ax.set_yticks(Y_TICKS)
    ax.set_yticklabels(Y_TICK_LABELS)
    ax.tick_params(direction='out', length=7.5, width=1.0, labelsize=12)
    ax.tick_params(axis='x', pad=10)
    ax.tick_params(axis='y', pad=8)
    for lbl in ax.get_yticklabels():
        lbl.set_rotation(90)
        lbl.set_va('center')
        lbl.set_ha('right')
    for s in ax.spines.values():
        s.set_linewidth(1.0)
    fig.text(405 / W, 1 - title_y / H, title, ha='center', va='center',
             fontsize=18.5, fontweight='bold')
    fig.text(13 / W, 1 - letter_y / H, letter, ha='center', va='center',
             fontsize=10.5, fontweight='bold')
    fig.text(383 / W, 1 - xlabel_y / H, X_LABEL, ha='center', va='center', fontsize=12)
    fig.text(11 / W, 1 - ((box[1] + box[3]) / 2) / H, Y_LABEL, ha='center', va='center',
             rotation=90, fontsize=12)
    return ax


def inset(box, reds, blacks):
    ax = fig.add_axes(px_axes(*box))
    ax.set_facecolor('white')
    draw_traces(ax, reds, blacks, lw=0.55, alpha=0.75)
    ax.set_xlim(*XLIM)
    ax.set_ylim(*YLIM)
    ax.set_xticks(X_TICKS)
    ax.set_yticks(Y_TICKS)
    ax.set_xticklabels([])
    ax.set_yticklabels([])
    ax.tick_params(direction='out', length=2.5, width=0.6, colors='#9a9a9a')
    for s in ax.spines.values():
        s.set_linewidth(0.8)
        s.set_color('#9a9a9a')
    ax.set_zorder(5)
    return ax


main_panel((83, 41, 681, 371), A_red, A_black, TITLES[0], 15, PANEL_LETTERS[0], 14, 444)
inset((95, 51, 240, 130), A_in_left_red, A_in_left_black)
inset((529, 49, 674, 128), A_in_right_red, A_in_right_black)

main_panel((83, 528, 681, 857), B_red, B_black, TITLES[1], 498, PANEL_LETTERS[1], 506, 931)
inset((96, 533, 240, 612), B_in_left_red, B_in_left_black)
inset((529, 533, 675, 613), B_in_right_red, B_in_right_black)

fig.savefig('out.png', dpi=100, facecolor='white')
